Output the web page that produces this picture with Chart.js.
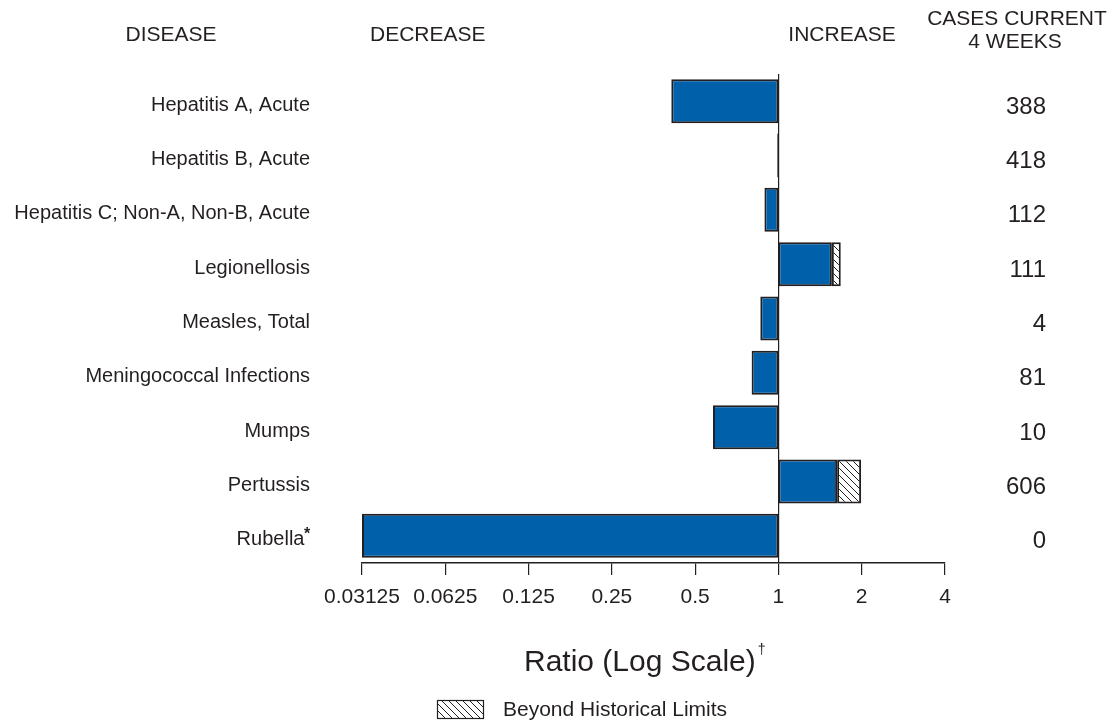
<!DOCTYPE html>
<html>
<head>
<meta charset="utf-8">
<title>Ratio chart</title>
<script src="https://cdn.jsdelivr.net/npm/chart.js@4/dist/chart.umd.min.js"></script>
<style>
  body { margin: 0; background: #fff; }
  #wrap { width: 1115px; height: 721px; }
</style>
</head>
<body>
<div id="wrap"><canvas id="chRatio" width="1115" height="721"></canvas></div>
<script>
// data
var diseases = ["Hepatitis A, Acute", "Hepatitis B, Acute", "Hepatitis C; Non-A, Non-B, Acute",
  "Legionellosis", "Measles, Total", "Meningococcal Infections", "Mumps", "Pertussis", "Rubella"];
var footnotes = ["", "", "", "", "", "", "", "", "*"];
var ratios = [0.41, 0.99, 0.89, 1.56, 0.86, 0.80, 0.58, 1.63, 0.03125];
var beyondLimits = [null, null, null, 1.68, null, null, null, 1.99, null];
var casesCurrent = [388, 418, 112, 111, 4, 81, 10, 606, 0];
var tickValues = [0.03125, 0.0625, 0.125, 0.25, 0.5, 1, 2, 4];

var font = "'Liberation Sans', Arial, Helvetica, sans-serif";
var ink = "#231f20";
var blue = "#0060a9";

// diagonal hatch for the part beyond historical limits
function makeHatch() {
  var c = document.createElement("canvas");
  var s = 7;
  c.width = s; c.height = s;
  var g = c.getContext("2d");
  g.fillStyle = "#fff";
  g.fillRect(0, 0, s, s);
  g.strokeStyle = ink;
  g.lineWidth = 1;
  g.beginPath();
  g.moveTo(-1, -1); g.lineTo(s + 1, s + 1);
  g.moveTo(-s - 1, -1); g.lineTo(1, s + 1);
  g.moveTo(s - 1, -1); g.lineTo(2 * s + 1, s + 1);
  g.stroke();
  return g.createPattern(c, "repeat");
}
var hatch = makeHatch();

// headers, counts, footnote marks, axis title and legend
var extras = {
  id: "extras",
  afterDraw: function (chart) {
    var ctx = chart.ctx;
    var y = chart.scales.y;
    ctx.save();
    ctx.fillStyle = ink;
    ctx.textBaseline = "middle";

    ctx.font = "21px " + font;
    ctx.textAlign = "center";
    ctx.fillText("DISEASE", 171, 35);
    ctx.fillText("INCREASE", 842, 35);
    ctx.fillText("CASES CURRENT", 1017, 19);
    ctx.fillText("4 WEEKS", 1015, 42);
    ctx.textAlign = "left";
    ctx.fillText("DECREASE", 370, 35);

    // case counts
    ctx.font = "24px " + font;
    ctx.textAlign = "right";
    casesCurrent.forEach(function (v, i) {
      ctx.fillText(String(v), 1046, y.getPixelForValue(i) + 6);
    });

    // superscript marks on category labels
    ctx.font = "bold 16px " + font;
    ctx.textAlign = "left";
    footnotes.forEach(function (f, i) {
      if (f) ctx.fillText(f, 304, y.getPixelForValue(i) - 1);
    });

    // axis title
    ctx.font = "30px " + font;
    ctx.textAlign = "left";
    var t = "Ratio (Log Scale)";
    ctx.fillText(t, 524, 663);
    var tw = ctx.measureText(t).width;
    ctx.font = "14px " + font;
    ctx.fillText("\u2020", 524 + tw + 2, 650);

    // legend
    var ds = chart.data.datasets[1];
    ctx.fillStyle = ds.backgroundColor;
    ctx.fillRect(437, 700, 47, 19);
    ctx.strokeStyle = ink;
    ctx.lineWidth = 1.2;
    ctx.strokeRect(437.5, 700.5, 46, 18);
    ctx.fillStyle = ink;
    ctx.font = "21px " + font;
    ctx.fillText(ds.label, 503, 710);
    ctx.restore();
  }
};

var chRatio = document.getElementById("chRatio");
if (chRatio) {
  new Chart(chRatio, {
    type: "bar",
    data: {
      labels: diseases,
      datasets: [
        {
          label: "Ratio",
          data: ratios.map(function (r) { return [1, r]; }),
          backgroundColor: blue,
          borderColor: ink,
          borderWidth: 2,
          borderSkipped: false,
          grouped: false,
          barPercentage: 0.81,
          categoryPercentage: 1
        },
        {
          label: "Beyond Historical Limits",
          data: beyondLimits.map(function (b, i) { return b === null ? null : [ratios[i], b]; }),
          backgroundColor: hatch,
          borderColor: ink,
          borderWidth: 2,
          borderSkipped: false,
          grouped: false,
          barPercentage: 0.81,
          categoryPercentage: 1
        }
      ]
    },
    options: {
      indexAxis: "y",
      responsive: false,
      animation: false,
      layout: { padding: { left: 0, right: 170, top: 74, bottom: 0 } },
      plugins: {
        legend: { display: false },
        tooltip: { enabled: false }
      },
      scales: {
        x: {
          type: "logarithmic",
          min: 0.03125,
          max: 4,
          afterBuildTicks: function (scale) {
            scale.ticks = tickValues.map(function (v) { return { value: v }; });
          },
          afterFit: function (scale) { scale.height = 158; },
          border: { display: true, color: ink, width: 1.5 },
          grid: {
            color: function (c) { return c.tick && c.tick.value === 1 ? ink : "rgba(0,0,0,0)"; },
            lineWidth: 1.2,
            tickColor: ink,
            tickLength: 12,
            drawTicks: true
          },
          ticks: {
            autoSkip: false,
            maxRotation: 0,
            padding: 10,
            color: ink,
            font: { family: font, size: 21 },
            callback: function (v) { return String(v); }
          }
        },
        y: {
          afterFit: function (scale) { scale.width = 362; },
          border: { display: false },
          grid: { display: false, drawTicks: false },
          ticks: {
            padding: 52,
            labelOffset: 4,
            color: ink,
            font: { family: font, size: 20 },
            callback: function (v, i) { return footnotes[i] ? diseases[i] + " " : diseases[i]; }
          }
        }
      }
    },
    plugins: [extras]
  });
}
</script>
</body>
</html>
